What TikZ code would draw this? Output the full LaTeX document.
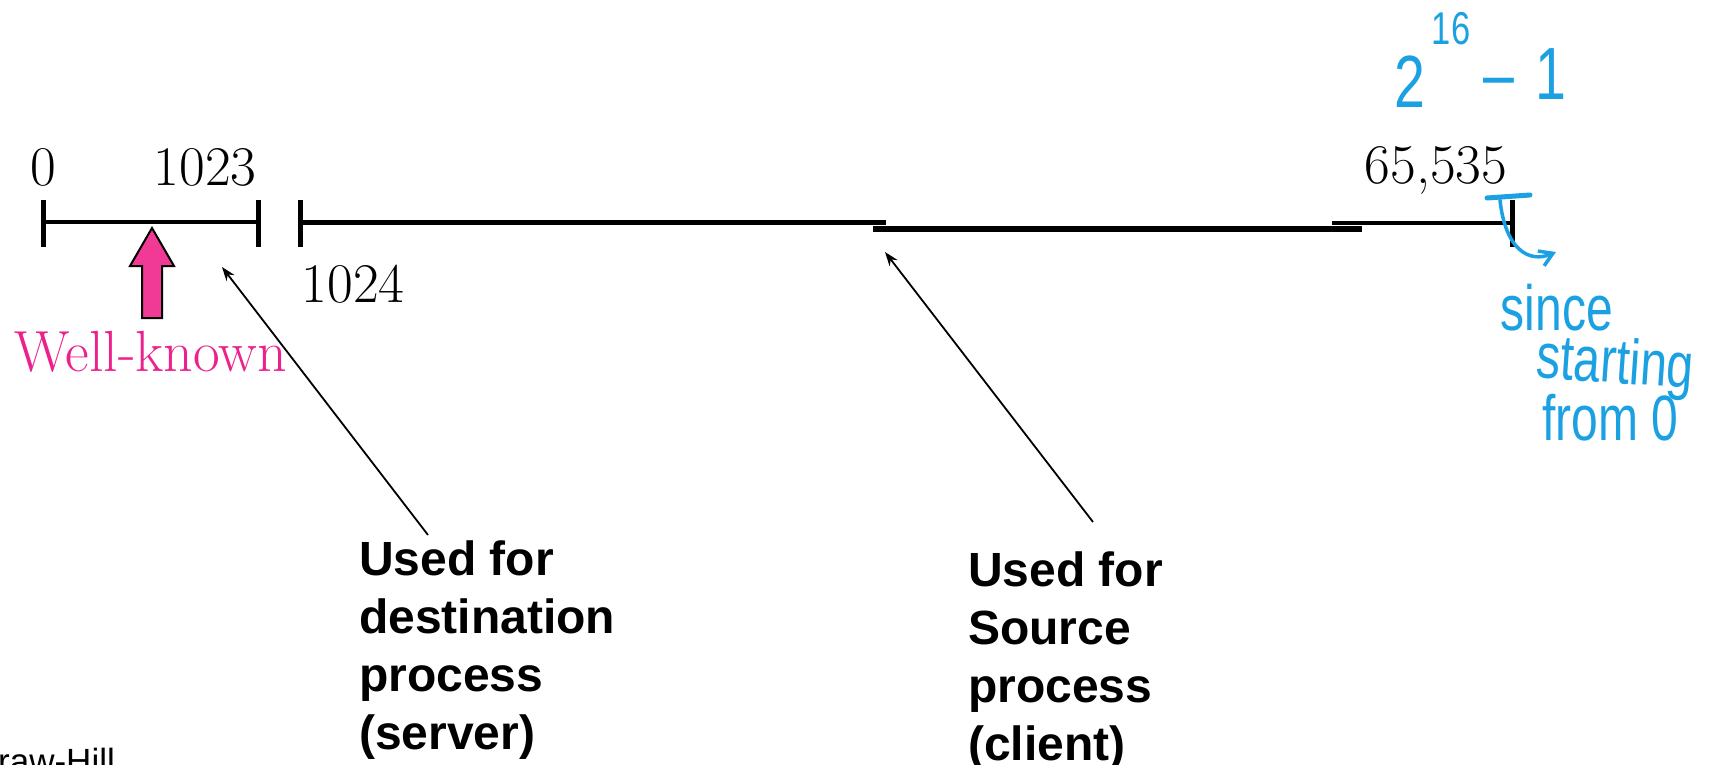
\documentclass[tikz,border=0pt]{standalone}
\usepackage{fontspec}
\newfontfamily\lblfont{Liberation Sans}
\newfontfamily\handfont[FakeStretch=0.75]{Liberation Sans}
\usetikzlibrary{arrows.meta}
\definecolor{wkpink}{RGB}{236,34,140}
\definecolor{arrowpink}{RGB}{240,58,150}
\definecolor{inkblue}{RGB}{27,161,226}
\tikzset{
  num/.style={font=\fontsize{56}{56}\selectfont, inner sep=0, anchor=base},
  tickline/.style={line width=5pt},
  axisline/.style={line width=4.5pt},
  thickline/.style={line width=6pt},
  lbl/.style={font=\lblfont\bfseries\fontsize{48}{58}\selectfont, align=left, inner sep=0, anchor=north west},
  leader/.style={line width=1.8pt, -{Stealth[length=14pt,width=10pt]}},
  ink/.style={inkblue, font=\handfont\fontsize{64}{64}\selectfont, inner sep=0},
  inkline/.style={inkblue, line width=3.5pt, line cap=round}
}
\begin{document}
\begin{tikzpicture}[x=1pt,y=-1pt]
\useasboundingbox (0,0) rectangle (1731,765);
\clip (0,0) rectangle (1731,765);

% well-known range
\draw[axisline] (43,222) -- (258,222);
\draw[tickline] (43,200) -- (43,247);
\draw[tickline] (258,200) -- (258,247);
% upper range
\draw[tickline] (300,200) -- (300,247);
\draw[axisline] (300,222.5) -- (886,222.5);
\draw[thickline] (873,229) -- (1362,229);
\draw[axisline] (1332,223) -- (1512,223);
\draw[tickline] (1512,200) -- (1512,247);

% numbers
\node[num] (n0) at (43,185) {0};
\node[num] (n1023) at (205,185) {1023};
\node[num] (n1024) at (353,302) {1024};
\node[num] (nmax) at (1436,183) {65,535};

% pink arrow and label
\draw[fill=arrowpink, line width=2pt, line join=miter]
  (152,228) -- (174,266) -- (162,266) -- (162,318) -- (142,318) -- (142,266) -- (130,266) -- cycle;
\node[wkpink, font=\fontsize{58}{58}\selectfont, inner sep=0, anchor=base] (wk) at (151,371) {Well-known};

% labels
\node[lbl] (srv) at (359,541) {Used for\\destination\\process\\(server)};
\node[lbl] (cli) at (968,552) {Used for\\Source\\process\\(client)};

\coordinate (srvtail) at (428,535);
\coordinate (srvtip) at (222,267);
\coordinate (clitail) at (1093,522);
\coordinate (clitip) at (885,252);
\draw[leader] (srvtail) -- (srvtip);
\draw[leader] (clitail) -- (clitip);

% footer (cut off)
\node[font=\lblfont\fontsize{35}{35}\selectfont, inner sep=0, anchor=base west] (foot) at (-2,773) {raw-Hill};

% handwritten notes
\node[ink, font=\handfont\fontsize{74}{74}\selectfont, anchor=base] (two) at (1410,108) {2};
\node[ink, font=\handfont\fontsize{46}{46}\selectfont, anchor=base] (exp) at (1451,45) {16};
\node[ink, font=\handfont\fontsize{74}{74}\selectfont, anchor=base] (minus) at (1525,100) {–\hspace{22pt}1};
\draw[inkline, line width=5pt] (1487,198) -- (1530,195);
\coordinate (curvestart) at (1500,200);
\coordinate (curveend) at (1556,252);
\draw[inkline, -{Straight Barb[length=13pt,width=16pt]}] (curvestart) .. controls (1505,248) and (1528,264) .. (curveend);
\node[ink, anchor=base] (since) at (1557,330) {since};
\node[ink, anchor=base, rotate=-4] (starting) at (1614,383) {starting};
\node[ink, anchor=base] (from) at (1610,440) {from 0};
\end{tikzpicture}
\end{document}
